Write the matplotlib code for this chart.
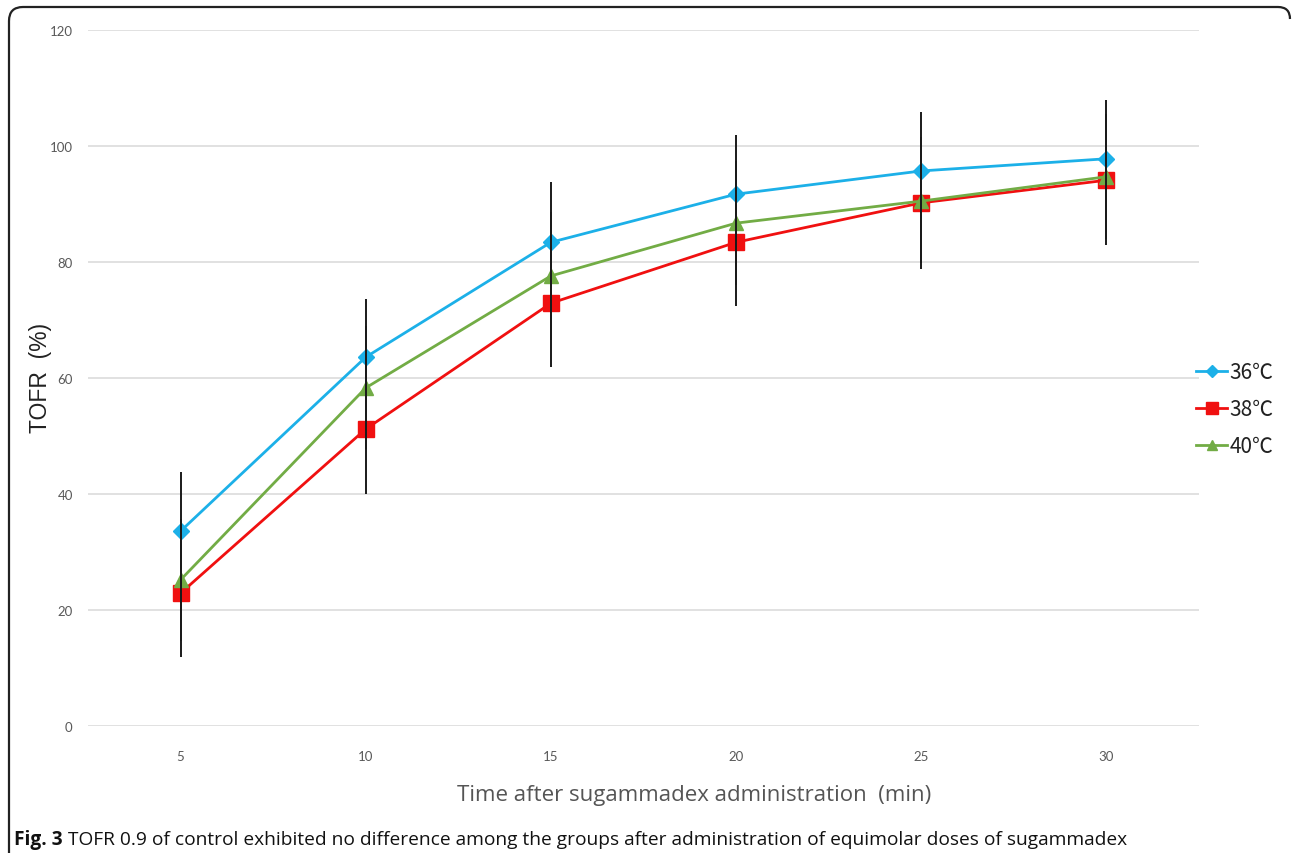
import matplotlib
matplotlib.use("Agg")
import matplotlib.pyplot as plt
from matplotlib.patches import PathPatch
from matplotlib.path import Path
from matplotlib.transforms import IdentityTransform

times = [5, 10, 15, 20, 25, 30]
tofr_36 = [33.6, 63.6, 83.4, 91.7, 95.7, 97.8]
tofr_38 = [22.9, 51.2, 72.9, 83.4, 90.2, 94.1]
tofr_40 = [25.2, 58.3, 77.6, 86.7, 90.5, 94.7]
sd_36 = [10.2, 10.0, 10.4, 10.2, 10.2, 10.1]
sd_38 = [11.0, 11.2, 11.0, 11.0, 11.4, 11.2]
sd_40 = [10.5, 10.6, 11.0, 10.7, 10.7, 10.8]

fig = plt.figure(figsize=(12.92, 8.54), dpi=100)
ax = fig.add_axes([88 / 1292, 1 - 727 / 854, 1111 / 1292, 696 / 854])

series = [
    ("36℃", tofr_36, sd_36, "#1CB0E8", "D", 8.5),
    ("38℃", tofr_38, sd_38, "#F01010", "s", 11),
    ("40℃", tofr_40, sd_40, "#72AC45", "^", 9.5),
]
for label, vals, sd, color, marker, ms in series:
    ax.plot(times, vals, color=color, lw=2.0, marker=marker, ms=ms,
            mec=color, label=label, zorder=3)
for label, vals, sd, color, marker, ms in series:
    ax.errorbar(times, vals, yerr=sd, fmt="none", ecolor="#1a1a1a",
                elinewidth=1.4, capsize=0, zorder=4)

ax.set_xlim(2.5, 32.5)
ax.set_ylim(0, 120)
ax.set_xticks(times)
ax.set_yticks(range(0, 121, 20))
ax.grid(axis="y", color="#d9d9d9", lw=1.1)
ax.set_axisbelow(True)
for s in ax.spines.values():
    s.set_visible(False)
ax.tick_params(length=0, labelsize=9.5, labelcolor="#595959")
ax.tick_params(axis="y", pad=11)
ax.tick_params(axis="x", pad=17)
for t in ax.get_xticklabels() + ax.get_yticklabels():
    t.set_family("Lato")

fig.text(40 / 1292, 1 - 378 / 854, "TOFR  (%)", rotation=90, ha="center",
         va="center", fontsize=16.5, color="#222222", family="Liberation Sans")
fig.text(694 / 1292, 1 - 796 / 854,
         "Time after sugammadex administration  (min)", ha="center",
         va="center", fontsize=16, color="#555555", family="Open Sans")

leg = ax.legend(loc="center left", bbox_to_anchor=(1196 / 1292, 1 - 410 / 854),
                bbox_transform=fig.transFigure, frameon=False, fontsize=15,
                handlelength=1.5, handletextpad=0.1, labelspacing=0.72,
                borderaxespad=0, borderpad=0, markerscale=0.75)
for t in leg.get_texts():
    t.set_color("#222222")
    t.set_family(["Noto Sans CJK SC", "DejaVu Sans"])

# rounded frame: left and top edges only (rest is cut off in the source)
H = 854
verts = [(9, -5), (9, H - 22), (9, H - 8), (23, H - 8),
         (1278, H - 8), (1290, H - 8), (1290, H - 20)]
codes = [Path.MOVETO, Path.LINETO, Path.CURVE3, Path.CURVE3,
         Path.LINETO, Path.CURVE3, Path.CURVE3]
fig.patches.append(PathPatch(Path(verts, codes), transform=IdentityTransform(),
                             fill=False, ec="#222222", lw=1.6))

cap_y = 1 - 840 / 854
t1 = fig.text(14 / 1292, cap_y, "Fig. 3", fontsize=13.8, fontweight="bold",
              va="center", family="Open Sans", color="#111111")
fig.canvas.draw()
bb = t1.get_window_extent()
fig.text((bb.x1 + 5) / 1292, cap_y,
         "TOFR 0.9 of control exhibited no difference among the groups after "
         "administration of equimolar doses of sugammadex",
         fontsize=13.8, va="center", family="Open Sans", color="#111111")

fig.savefig("out.png", dpi=100)
